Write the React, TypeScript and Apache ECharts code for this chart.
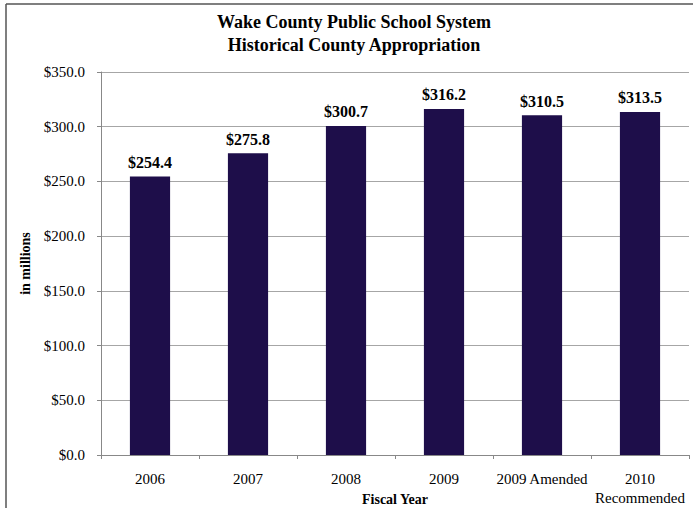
import React, { useEffect, useRef } from "react";
import * as echarts from "echarts";

const categories = ["2006", "2007", "2008", "2009", "2009 Amended", "2010\nRecommended"];
const values = [254.4, 275.8, 300.7, 316.2, 310.5, 313.5];
const titleLines = ["Wake County Public School System", "Historical County Appropriation"];

const SERIF = "'Liberation Serif', 'Times New Roman', serif";

export default function App() {
  const ref = useRef<HTMLDivElement>(null);
  useEffect(() => {
    document.body.style.margin = "0";
    const chart = echarts.init(ref.current!, null, { renderer: "svg" });
    chart.setOption({
      animation: false,
      backgroundColor: "#ffffff",
      textStyle: { fontFamily: SERIF },
      graphic: [
        { type: "line", shape: { x1: 6, y1: 4, x2: 693, y2: 4 }, style: { stroke: "#555", lineWidth: 1.5 } },
        { type: "line", shape: { x1: 6, y1: 4, x2: 6, y2: 508 }, style: { stroke: "#555", lineWidth: 1.5 } },
        {
          type: "text",
          x: 354,
          y: 10,
          style: {
            text: titleLines.join("\n"),
            fontFamily: SERIF,
            fontWeight: "bold",
            fontSize: 18,
            lineHeight: 23,
            textAlign: "center",
            fill: "#000",
          },
        },
      ],
      grid: { left: 101, right: 4, top: 72, bottom: 53, outerBoundsMode: "none", containLabel: false },
      xAxis: {
        type: "category",
        data: categories,
        name: "Fiscal Year",
        nameLocation: "middle",
        nameGap: 37,
        nameMoveOverlap: false,
        nameTextStyle: { fontFamily: SERIF, fontWeight: "bold", fontSize: 14, lineHeight: 14, color: "#000" },
        axisLine: { lineStyle: { color: "#888", width: 1 } },
        axisTick: { show: true, length: 4, lineStyle: { color: "#888" } },
        axisLabel: { fontFamily: SERIF, fontSize: 15, color: "#000", margin: 14, lineHeight: 19, interval: 0 },
      },
      yAxis: {
        type: "value",
        min: 0,
        max: 350,
        interval: 50,
        name: "in millions",
        nameLocation: "middle",
        nameGap: 69,
        nameMoveOverlap: false,
        nameTextStyle: { fontFamily: SERIF, fontWeight: "bold", fontSize: 14, color: "#000" },
        axisLine: { show: true, lineStyle: { color: "#888", width: 1 } },
        axisTick: { show: true, length: 4, lineStyle: { color: "#888" } },
        splitLine: { lineStyle: { color: "#a6a6a6", width: 1 } },
        axisLabel: {
          fontFamily: SERIF,
          fontSize: 15,
          color: "#000",
          margin: 16,
          formatter: (v: number) => "$" + v.toFixed(1),
        },
      },
      series: [
        {
          type: "bar",
          data: values,
          barWidth: "41%",
          itemStyle: { color: "#1e0e4a" },
          label: {
            show: true,
            position: "top",
            distance: 6,
            fontFamily: SERIF,
            fontWeight: "bold",
            fontSize: 16,
            color: "#000",
            formatter: (p: any) => "$" + p.value.toFixed(1),
          },
        },
      ],
    });
    return () => chart.dispose();
  }, []);
  return <div ref={ref} style={{ width: 693, height: 508 }} />;
}
